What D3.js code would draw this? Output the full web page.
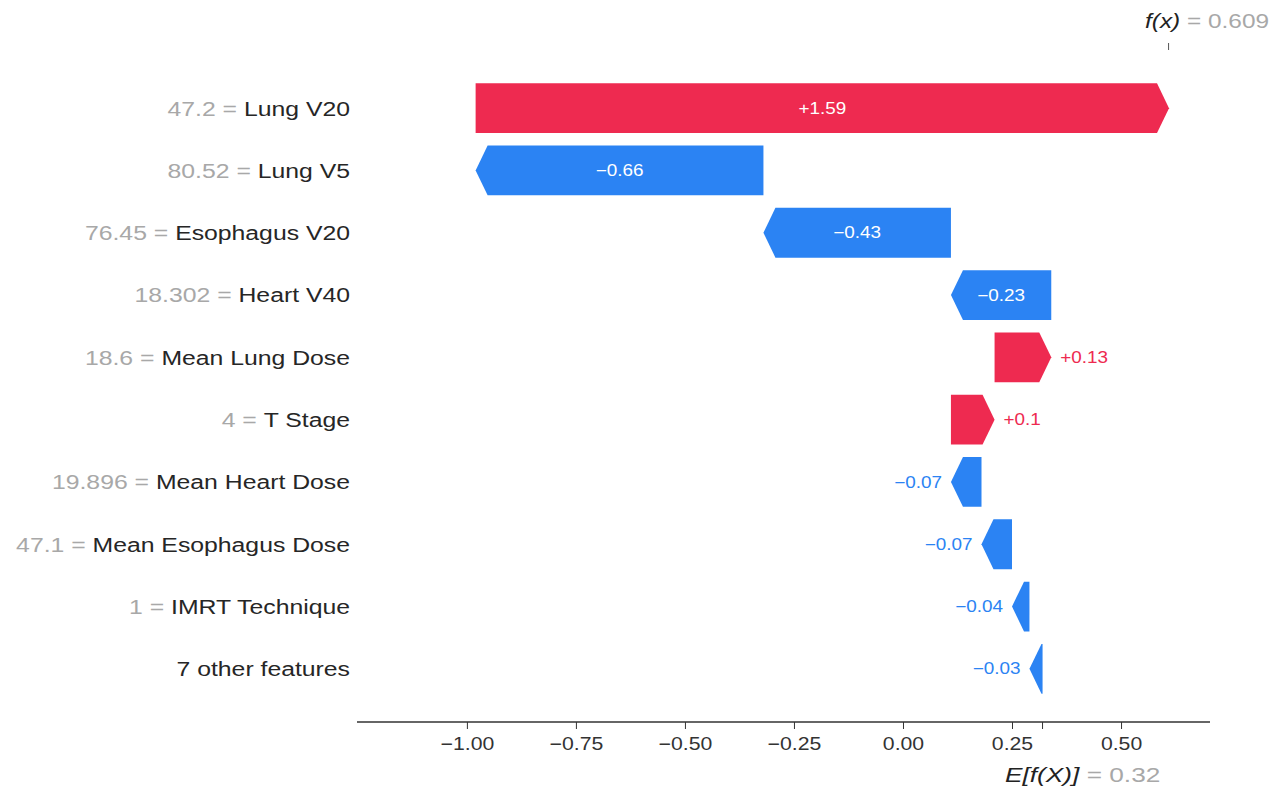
<!DOCTYPE html>
<html>
<head>
<meta charset="utf-8">
<script src="https://cdn.jsdelivr.net/npm/d3@7/dist/d3.min.js"></script>
<style>
  html, body { margin: 0; padding: 0; background: #ffffff; }
  svg { display: block; font-family: "Liberation Sans", Arial, sans-serif; }
</style>
</head>
<body>
<svg id="chart" width="1286" height="789"></svg>
<script>
// SHAP-style waterfall: contribution of each feature to the model output
const features = ["Lung V20", "Lung V5", "Esophagus V20", "Heart V40", "Mean Lung Dose",
                  "T Stage", "Mean Heart Dose", "Mean Esophagus Dose", "IMRT Technique", "7 other features"];
const featureValues = ["47.2", "80.52", "76.45", "18.302", "18.6", "4", "19.896", "47.1", "1", ""];
const shapValues = [1.59, -0.66, -0.43, -0.23, 0.13, 0.1, -0.07, -0.07, -0.04, -0.03];
const baseValue = 0.32;
const outputValue = 0.609;
const xTicks = [-1.00, -0.75, -0.50, -0.25, 0.00, 0.25, 0.50];

const posColor = "#ee2a50";
const negColor = "#2b83f3";
const minus = "\u2212";
const stretch = 1.18;   // text is set slightly wide

const svg = d3.select("#chart");

const x = d3.scaleLinear().domain([-1.252, 0.704]).range([357, 1210]);
const y = d3.scaleBand().domain(features).range([77, 700]).paddingInner(0.2).paddingOuter(0.1);

// running totals, accumulated from the bottom row (base value) upwards
const rows = [];
let running = baseValue;
for (let i = features.length - 1; i >= 0; i--) {
  const start = running;
  const end = running + shapValues[i];
  rows[i] = { name: features[i], fval: featureValues[i], v: shapValues[i], start, end };
  running = end;
}

const fmt = v => (v > 0 ? "+" : minus) + String(Math.round(Math.abs(v) * 100) / 100);

// a text element placed at (px, py), widened horizontally around its anchor
function wideText(parent, px, py, sx) {
  return parent.append("g")
    .attr("transform", `translate(${px},${py}) scale(${sx},1)`)
    .append("text");
}

const headLen = 12;
function arrowPath(d) {
  const s = x(d.start), e = x(d.end);
  const t = y(d.name), b = t + y.bandwidth(), m = t + y.bandwidth() / 2;
  const dir = e >= s ? 1 : -1;
  const h = Math.min(headLen, Math.abs(e - s));
  const n = e - dir * h;
  return `M${s},${t}L${n},${t}L${e},${m}L${n},${b}L${s},${b}Z`;
}

// bars
svg.append("g").selectAll("path")
  .data(rows)
  .join("path")
  .attr("d", arrowPath)
  .attr("fill", d => d.v > 0 ? posColor : negColor);

// value labels (inside the bar when they fit, otherwise beside the tip)
const labels = svg.append("g").attr("font-size", 16);
rows.forEach(d => {
  const s = x(d.start), e = x(d.end);
  const m = y(d.name) + y.bandwidth() / 2;
  const probe = labels.append("text").text(fmt(d.v));
  const tw = probe.node().getComputedTextLength() * stretch;
  probe.remove();
  const barW = Math.abs(e - s) - headLen;
  let px, anchor, fill;
  if (tw + 20 < barW) {
    px = (s + e) / 2; anchor = "middle"; fill = "#ffffff";
  } else if (d.v > 0) {
    px = e + 9; anchor = "start"; fill = posColor;
  } else {
    px = e - 9; anchor = "end"; fill = negColor;
  }
  wideText(labels, px, m, stretch)
    .attr("dy", "0.35em").attr("text-anchor", anchor).attr("fill", fill).text(fmt(d.v));
});

// feature labels
const ylab = svg.append("g").attr("font-size", 21).attr("text-anchor", "end");
rows.forEach(d => {
  const t = wideText(ylab, 350, y(d.name) + y.bandwidth() / 2, stretch).attr("dy", "0.35em");
  if (d.fval !== "") {
    t.append("tspan").attr("fill", "#a8a8a8").text(d.fval + " = ");
  }
  t.append("tspan").attr("fill", "#262626").text(d.name);
});

// bottom axis
const axisY = 722;
const axis = svg.append("g")
  .attr("transform", `translate(0,${axisY})`)
  .call(d3.axisBottom(x).tickValues(xTicks).tickSize(7).tickPadding(8)
    .tickFormat(v => (v < 0 ? minus : "") + Math.abs(v).toFixed(2)));
axis.select(".domain").attr("stroke", "#333333").attr("stroke-width", 1.4).attr("d", `M${x.range()[0]},0H${x.range()[1]}`);
axis.selectAll(".tick line").attr("stroke", "#333333").attr("stroke-width", 1);
axis.selectAll(".tick text")
  .attr("font-size", 18).attr("fill", "#333333")
  .attr("font-family", "Liberation Sans, Arial, sans-serif")
  .attr("transform", `scale(${stretch},1)`)
  .attr("x", function () { return 0; });

// base value marker on the axis
svg.append("line")
  .attr("x1", x(baseValue)).attr("x2", x(baseValue))
  .attr("y1", axisY).attr("y2", axisY + 7)
  .attr("stroke", "#333333");
const eText = wideText(svg, 1005, 782, 1.25).attr("font-size", 21);
eText.append("tspan").attr("fill", "#222222").attr("font-style", "italic").text("E[f(X)]");
eText.append("tspan").attr("fill", "#a8a8a8").text(" = " + baseValue.toFixed(2));

// model output marker on top
svg.append("line")
  .attr("x1", x(outputValue)).attr("x2", x(outputValue))
  .attr("y1", 43).attr("y2", 50)
  .attr("stroke", "#555555");
const fText = wideText(svg, 1145, 28, 1.22).attr("font-size", 20);
fText.append("tspan").attr("fill", "#222222").attr("font-style", "italic").text("f(x)");
fText.append("tspan").attr("fill", "#a8a8a8").text(" = " + outputValue.toFixed(3));
</script>
</body>
</html>
